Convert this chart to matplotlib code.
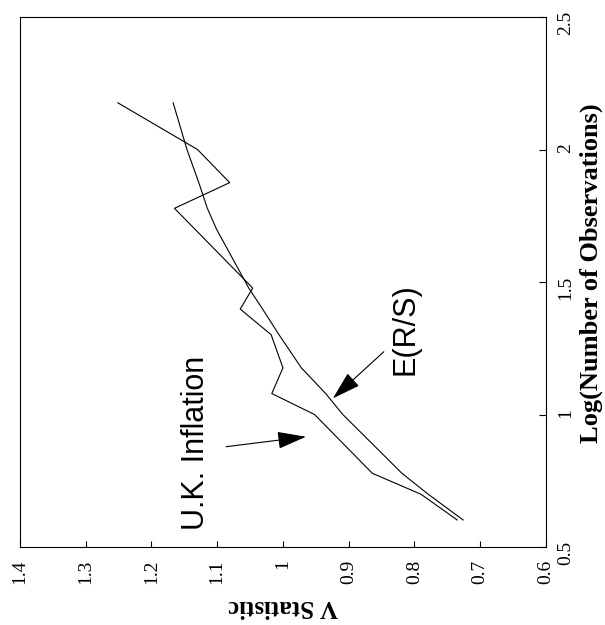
import matplotlib.pyplot as plt

# log10 of the number of observations (divisors of 300)
log_n = [0.602, 0.699, 0.778, 1.0, 1.079, 1.176, 1.301, 1.398, 1.477, 1.778, 1.875, 2.0, 2.176]
uk_v = [0.735, 0.790, 0.864, 0.952, 1.017, 1.000, 1.018, 1.065, 1.046, 1.165, 1.081, 1.130, 1.251]

# expected R/S, V statistic
ers_n = [0.602, 0.699, 0.778, 1.0, 1.079, 1.176, 1.301, 1.398, 1.477, 1.699, 1.778, 1.875, 2.0, 2.176]
ers_v = [0.726, 0.779, 0.819, 0.909, 0.935, 0.972, 1.006, 1.031, 1.052, 1.101, 1.115, 1.128, 1.146, 1.167]

v_ticks = [1.4, 1.3, 1.2, 1.1, 1.0, 0.9, 0.8, 0.7, 0.6]
v_labels = ['1.4', '1.3', '1.2', '1.1', '1', '0.9', '0.8', '0.7', '0.6']
n_ticks = [0.5, 1.0, 1.5, 2.0, 2.5]
n_labels = ['0.5', '1', '1.5', '2', '2.5']

plt.rcParams['font.family'] = ['Liberation Serif', 'DejaVu Serif']

fig = plt.figure(figsize=(6.05, 6.25), dpi=100)
# the page is turned on its side: V runs along the bottom, log(n) up the right
ax = fig.add_axes([0.033, 0.1248, 0.8694, 0.848])

ax.plot(uk_v, log_n, color='black', lw=0.8)
ax.plot(ers_v, ers_n, color='black', lw=0.8)

ax.set_xlim(1.4, 0.6)
ax.set_ylim(0.5, 2.5)
ax.set_xticks(v_ticks, v_labels)
ax.set_yticks(n_ticks, n_labels)
ax.yaxis.tick_right()
ax.tick_params(axis='x', direction='in', length=4, width=0.8,
               labelsize=14, labelrotation=90, pad=9)
ax.tick_params(axis='y', direction='in', length=5, width=0.8,
               labelsize=14, labelrotation=90, pad=8)
for s in ax.spines.values():
    s.set_linewidth(0.8)

ax.text(0.5, -0.113, 'V Statistic', rotation=180, transform=ax.transAxes,
        ha='center', va='center', fontsize=18, fontweight='bold')
ax.text(1.087, 0.517, 'Log(Number of Observations)', rotation=90,
        transform=ax.transAxes, ha='center', va='center',
        fontsize=19, fontweight='bold')

# labels with arrows
ax.text(1.133, 0.892, 'U.K. Inflation', rotation=90, ha='center', va='center',
        fontsize=22, family='Liberation Sans')
ax.text(0.813, 1.323, 'E(R/S)', rotation=90, ha='center', va='center',
        fontsize=22, family='Liberation Sans')
arrow = dict(arrowstyle='-|>,head_length=1.0,head_width=0.3', mutation_scale=18,
             color='black', lw=0.8, shrinkA=0, shrinkB=0)
ax.annotate('', xy=(0.965, 0.916), xytext=(1.0865, 0.8785), arrowprops=arrow)
ax.annotate('', xy=(0.924, 1.061), xytext=(0.8466, 1.237), arrowprops=arrow)

fig.savefig('out.png', dpi=100)
